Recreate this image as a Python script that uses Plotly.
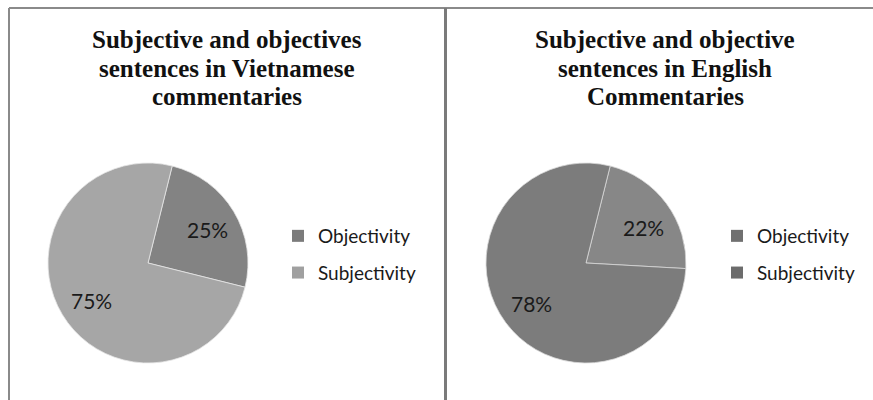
import plotly.graph_objects as go

# Sentence classes and their shares in each corpus
categories = ["Objectivity", "Subjectivity"]
vietnamese_share = [25, 75]
english_share = [22, 78]

vn_title_lines = ["Subjective and objectives", "sentences in Vietnamese", "commentaries"]
en_title_lines = ["Subjective and objective", "sentences in English", "Commentaries"]

vn_colors = ["#838383", "#a6a6a6"]
en_colors = ["#878787", "#7c7c7c"]
vn_legend_colors = ["#7b7b7b", "#a0a0a0"]
en_legend_colors = ["#707070", "#6c6c6c"]

W, H = 873, 400

# pixel placement of the percentage labels (left panel, right panel)
vn_label_pos = [(207, 229), (91, 300)]
en_label_pos = [(643, 227), (531, 303)]


def px_x(v):
    return v / W


def px_y(v):
    return 1 - v / H


label_font = dict(family="Lato, 'Open Sans', sans-serif", size=21, color="#1a1a1a")

fig = go.Figure()

fig.add_trace(go.Pie(
    labels=categories,
    values=vietnamese_share,
    sort=False,
    direction="clockwise",
    rotation=14,
    marker=dict(colors=vn_colors, line=dict(color="#e6e6e6", width=0.8)),
    textinfo="none",
    domain=dict(x=[px_x(48), px_x(248)], y=[px_y(363), px_y(163)]),
    showlegend=False,
    hoverinfo="label+percent",
))

fig.add_trace(go.Pie(
    labels=categories,
    values=english_share,
    sort=False,
    direction="clockwise",
    rotation=14,
    marker=dict(colors=en_colors, line=dict(color="#d8d8d8", width=0.8)),
    textinfo="none",
    domain=dict(x=[px_x(486), px_x(686)], y=[px_y(363), px_y(163)]),
    showlegend=False,
    hoverinfo="label+percent",
))

# Legend entries for each panel (one group per entry so rows can be spaced)
for legend_name, colors, tag in (("legend", vn_legend_colors, "vn"), ("legend2", en_legend_colors, "en")):
    for cat, col in zip(categories, colors):
        fig.add_trace(go.Scatter(
            x=[None], y=[None], mode="markers", name=cat,
            marker=dict(symbol="square", size=12, color=col),
            legend=legend_name, legendgroup=f"{tag}-{cat}", showlegend=True,
            hoverinfo="skip",
        ))

legend_common = dict(
    font=dict(family="Lato, 'Open Sans', sans-serif", size=19, color="#1a1a1a"),
    bgcolor="rgba(0,0,0,0)",
    xanchor="left",
    yanchor="middle",
    y=px_y(254.5),
    traceorder="grouped",
    tracegroupgap=9,
)

title_font = dict(family="'Liberation Serif', 'Times New Roman', serif", size=25, color="#111111")

annotations = []
for cx, lines in ((227, vn_title_lines), (665, en_title_lines)):
    for i, line in enumerate(lines):
        annotations.append(dict(
            text="<b>" + line + "</b>", x=px_x(cx), y=px_y(40 + 28.5 * i),
            xref="paper", yref="paper", showarrow=False, font=title_font,
            xanchor="center", yanchor="middle",
        ))

# percentage labels, text taken from the slice values
for values, positions in ((vietnamese_share, vn_label_pos), (english_share, en_label_pos)):
    total = sum(values)
    for v, (lx, ly) in zip(values, positions):
        annotations.append(dict(
            text=f"{round(100 * v / total)}%", x=px_x(lx), y=px_y(ly),
            xref="paper", yref="paper", showarrow=False, font=label_font,
            xanchor="center", yanchor="middle",
        ))

fig.update_layout(
    width=W,
    height=H,
    margin=dict(l=0, r=0, t=0, b=0),
    paper_bgcolor="white",
    plot_bgcolor="white",
    xaxis=dict(visible=False),
    yaxis=dict(visible=False),
    legend=dict(x=px_x(278), **legend_common),
    legend2=dict(x=px_x(717), **legend_common),
    annotations=annotations,
    shapes=[
        # panel frames
        dict(type="line", xref="paper", yref="paper", x0=px_x(9), x1=1, y0=px_y(8), y1=px_y(8),
             line=dict(color="#8a8a8a", width=2)),
        dict(type="line", xref="paper", yref="paper", x0=px_x(9), x1=px_x(9), y0=px_y(8), y1=0,
             line=dict(color="#8a8a8a", width=2)),
        dict(type="line", xref="paper", yref="paper", x0=px_x(445.5), x1=px_x(445.5), y0=px_y(8), y1=0,
             line=dict(color="#7a7a7a", width=3)),
    ],
)

fig.write_html("out.html")
